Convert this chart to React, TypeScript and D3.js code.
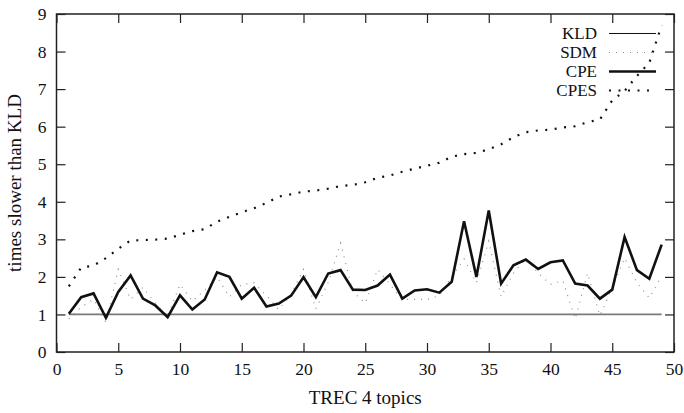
import React, { useEffect, useRef } from "react";
import * as d3 from "d3";

// topics 1..49
const topics: number[] = d3.range(1, 50);

const kld: number[] = topics.map(() => 1);

const sdm: number[] = [
  0.88, 1.2, 1.4, 0.78, 2.2, 1.4, 1.72, 1.3, 0.95, 1.8,
  1.35, 1.65, 2.0, 1.47, 1.8, 1.84, 1.5, 1.13, 1.55, 2.2,
  1.15, 1.85, 2.9, 1.6, 1.3, 2.2, 1.8, 1.4, 1.4, 1.4,
  1.5, 2.0, 2.48, 1.84, 2.95, 1.47, 2.1, 2.5, 2.1, 1.8,
  1.9, 0.88, 2.1, 0.97, 1.7, 2.5, 1.84, 1.44, 2.02,
];

const cpe: number[] = [
  1.02, 1.46, 1.56, 0.91, 1.6, 2.04, 1.42, 1.24, 0.93, 1.51,
  1.13, 1.4, 2.12, 2.0, 1.42, 1.71, 1.21, 1.29, 1.5, 1.99,
  1.46, 2.09, 2.18, 1.66, 1.65, 1.77, 2.06, 1.42, 1.64, 1.67,
  1.58, 1.87, 3.48, 2.0, 3.77, 1.82, 2.31, 2.46, 2.21, 2.39,
  2.44, 1.82, 1.77, 1.42, 1.66, 3.06, 2.18, 1.95, 2.86,
];

const cpes: number[] = [
  1.75, 2.25, 2.3, 2.5, 2.75, 2.97, 2.98, 2.99, 3.02, 3.12,
  3.22, 3.27, 3.47, 3.6, 3.72, 3.83, 3.97, 4.14, 4.2, 4.27,
  4.3, 4.35, 4.42, 4.45, 4.52, 4.64, 4.7, 4.8, 4.88, 4.96,
  5.04, 5.2, 5.27, 5.3, 5.4, 5.53, 5.72, 5.85, 5.9, 5.92,
  5.98, 6.01, 6.12, 6.19, 6.7, 6.95, 7.35, 7.7, 8.7,
];

const xTicks: number[] = [0, 5, 10, 15, 20, 25, 30, 35, 40, 45, 50];
const yTicks: number[] = [0, 1, 2, 3, 4, 5, 6, 7, 8, 9];

const seriesNames: string[] = ["KLD", "SDM", "CPE", "CPES"];

const App: React.FC = () => {
  const ref = useRef<SVGSVGElement>(null);

  useEffect(() => {
    const width = 684;
    const height = 413;
    const margin = { top: 14, right: 10, bottom: 61, left: 56.5 };
    const innerWidth = width - margin.left - margin.right;
    const innerHeight = height - margin.top - margin.bottom;
    const font = "'Liberation Serif', 'DejaVu Serif', serif";

    const svg = d3.select(ref.current)
      .attr("width", width)
      .attr("height", height);

    svg.selectAll("*").remove();

    const g = svg.append("g")
      .attr("transform", `translate(${margin.left}, ${margin.top})`);

    const xScale = d3.scaleLinear().domain([0, 50]).range([0, innerWidth]);
    const yScale = d3.scaleLinear().domain([0, 9]).range([innerHeight, 0]);

    const tickLen = 9;

    // ticks on all four sides, pointing inward
    const xAxisB = d3.axisBottom(xScale).tickValues(xTicks).tickSizeInner(-tickLen).tickSizeOuter(0).tickPadding(11);
    const xAxisT = d3.axisTop(xScale).tickValues(xTicks).tickSizeInner(-tickLen).tickSizeOuter(0).tickFormat(() => "");
    const yAxisL = d3.axisLeft(yScale).tickValues(yTicks).tickSizeInner(-tickLen).tickSizeOuter(0).tickPadding(10);
    const yAxisR = d3.axisRight(yScale).tickValues(yTicks).tickSizeInner(-tickLen).tickSizeOuter(0).tickFormat(() => "");

    const styleAxis = (sel: any) => {
      sel.select(".domain").remove();
      sel.selectAll("line").attr("stroke", "#222").attr("stroke-width", 1.2);
      sel.selectAll("text")
        .attr("fill", "#111")
        .style("font-family", font)
        .style("font-size", "17.5px");
    };

    g.append("g").attr("transform", `translate(0, ${innerHeight})`).call(xAxisB).call(styleAxis);
    g.append("g").call(xAxisT).call(styleAxis);
    g.append("g").call(yAxisL).call(styleAxis);
    g.append("g").attr("transform", `translate(${innerWidth}, 0)`).call(yAxisR).call(styleAxis);

    const line = (vals: number[]) =>
      d3.line<number>()
        .x((_, i) => xScale(topics[i]))
        .y((d) => yScale(d))(vals);

    const styles: Record<string, { color: string; w: number; dash: string | null }> = {
      KLD: { color: "#7a7a7a", w: 1.8, dash: null },
      SDM: { color: "#888", w: 1.1, dash: "1,6" },
      CPE: { color: "#111", w: 2.6, dash: null },
      CPES: { color: "#111", w: 2.2, dash: "2,7.5" },
    };
    const data: Record<string, number[]> = { KLD: kld, SDM: sdm, CPE: cpe, CPES: cpes };

    seriesNames.forEach((name) => {
      const s = styles[name];
      g.append("path")
        .attr("d", line(data[name]))
        .attr("fill", "none")
        .attr("stroke", s.color)
        .attr("stroke-width", s.w)
        .attr("stroke-linejoin", "miter")
        .attr("stroke-dasharray", s.dash);
    });

    // legend
    const legend = svg.append("g");
    seriesNames.forEach((name, i) => {
      const s = styles[name];
      const y = 33.5 + i * 19;
      legend.append("text")
        .attr("x", 597)
        .attr("y", y)
        .attr("dy", "0.35em")
        .attr("text-anchor", "end")
        .style("font-family", font)
        .style("font-size", "17px")
        .attr("fill", "#111")
        .text(name);
      legend.append("line")
        .attr("x1", 609)
        .attr("x2", 656)
        .attr("y1", y)
        .attr("y2", y)
        .attr("stroke", name === "KLD" ? "#111" : s.color)
        .attr("stroke-width", name === "KLD" ? 1.2 : s.w)
        .attr("stroke-dasharray", s.dash);
    });

    // frame
    g.append("rect")
      .attr("x", 0)
      .attr("y", 0)
      .attr("width", innerWidth)
      .attr("height", innerHeight)
      .attr("fill", "none")
      .attr("stroke", "#222")
      .attr("stroke-width", 1.5);

    // axis titles
    svg.append("text")
      .attr("x", margin.left + innerWidth / 2)
      .attr("y", 404)
      .attr("text-anchor", "middle")
      .style("font-family", font)
      .style("font-size", "19px")
      .attr("fill", "#111")
      .text("TREC 4 topics");

    svg.append("text")
      .attr("transform", "rotate(-90)")
      .attr("x", -(margin.top + innerHeight / 2))
      .attr("y", 21)
      .attr("text-anchor", "middle")
      .style("font-family", font)
      .style("font-size", "19px")
      .attr("fill", "#111")
      .text("times slower than KLD");
  }, []);

  return (
    <div style={{ position: "absolute", left: 0, top: 0 }}>
      <svg ref={ref} style={{ display: "block", background: "#fff" }}></svg>
    </div>
  );
};

export default App;
